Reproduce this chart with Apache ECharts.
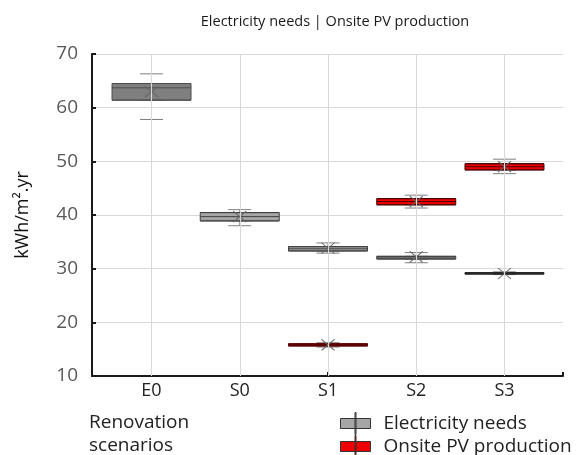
<!DOCTYPE html>
<html><head><meta charset="utf-8">
<script src="https://cdn.jsdelivr.net/npm/echarts@6/dist/echarts.min.js"></script>
<style>html,body{margin:0;padding:0;background:#fff}#c{width:577px;height:455px}</style>
</head><body><div id="c"></div>
<script>
const categories = ['E0', 'S0', 'S1', 'S2', 'S3'];
const yTicks = [10, 20, 30, 40, 50, 60, 70];
// Electricity needs: [min, Q1, median, Q3, max]
const elecBox = [
  [57.8, 61.4, 63.7, 64.5, 66.3],
  [38.0, 38.9, 39.7, 40.45, 41.0],
  [32.9, 33.3, 33.7, 34.1, 34.8],
  [31.1, 31.8, 32.0, 32.3, 33.0],
  [28.9, 29.0, 29.1, 29.25, 29.4]
];
const elecMean = [63.0, 39.7, 33.8, 32.2, 29.1];
// Onsite PV production: [min, Q1, median, Q3, max]
const pvBox = [
  null,
  null,
  [15.4, 15.6, 15.8, 16.0, 16.2],
  [41.3, 41.9, 42.5, 43.05, 43.7],
  [47.7, 48.4, 49.0, 49.55, 50.4]
];
const pvMean = [null, null, 15.8, 42.5, 49.0];

const elecFill = ['#7f7f7f', '#a6a6a6', '#a6a6a6', '#a6a6a6', '#595959'];
const elecBorder = ['#4d4d4d', '#404040', '#404040', '#404040', '#262626'];
const pvFill = [null, null, '#700a0a', '#ee0000', '#ee0000'];
const pvBorder = [null, null, '#5a0000', '#4a0000', '#4a0000'];

const FONT = 'Open Sans';
const whiskerData = (arr) => arr.map(v => v ? v : '-');
const boxData = (arr, fill, border) => arr.map((v, i) => v ? {
  value: [v[1], v[1], v[2], v[3], v[3]],
  itemStyle: { color: fill[i], borderColor: border[i], borderWidth: 1 }
} : '-');
const meanData = (arr) => arr.map((m, i) => m == null ? null : [categories[i], m]).filter(d => d);

const xSymbol = 'path://M0,0L12,10M12,0L0,10';
const hiddenCat = () => ({ type: 'category', gridIndex: 0, data: categories, show: false });
const legendIcon = 'path://M0,6H30V16H0Z M14.5,0H15.5V22H14.5Z';
const legendBase = (top, item) => ({
  orient: 'vertical', left: 340, top: top, padding: 0, itemWidth: 30, itemHeight: 22,
  textStyle: { fontFamily: FONT, fontSize: 19, color: '#222', padding: [0, 0, 0, 8] }, data: [item]
});

const chart = echarts.init(document.getElementById('c'), null, { renderer: 'canvas' });
chart.setOption({
  animation: false,
  textStyle: { fontFamily: FONT },
  title: [
    { text: 'Electricity needs | Onsite PV production', left: 330, top: 9, textAlign: 'center',
      textStyle: { fontFamily: FONT, fontSize: 14.5, fontWeight: 'normal', color: '#1a1a1a' } },
    { text: 'Renovation\nscenarios', left: 89, top: 411, padding: 0,
      textStyle: { fontFamily: FONT, fontSize: 19, fontWeight: 'normal', color: '#222', lineHeight: 23 } }
  ],
  legend: [
    legendBase(412, { name: 'Electricity needs', icon: legendIcon,
      itemStyle: { color: '#a6a6a6', borderColor: '#333', borderWidth: 1 } }),
    legendBase(435, { name: 'Onsite PV production', icon: legendIcon,
      itemStyle: { color: '#ee0000', borderColor: '#333', borderWidth: 1 } })
  ],
  grid: [
    { left: 107.4, right: 28.4, top: 54, bottom: 79 },
    { left: 92, right: 14, top: 54, bottom: 79 }
  ],
  xAxis: [
    { type: 'category', gridIndex: 0, data: categories,
      axisLine: { show: false }, axisTick: { show: false }, splitLine: { show: false },
      axisLabel: { fontFamily: FONT, fontSize: 18, color: '#222', margin: 6 } },
    { type: 'value', gridIndex: 1, min: 0, max: 2, interval: 1,
      axisLine: { show: true, lineStyle: { color: '#1a1a1a', width: 2 } },
      axisTick: { show: true, inside: true, length: 4, lineStyle: { color: '#1a1a1a', width: 2 } },
      axisLabel: { show: false }, splitLine: { show: false } },
    hiddenCat(), hiddenCat(), hiddenCat(), hiddenCat()
  ],
  yAxis: [
    { type: 'value', gridIndex: 0, min: 10, max: 70, interval: 10, show: false },
    { type: 'value', gridIndex: 1, min: yTicks[0], max: yTicks[yTicks.length - 1], interval: 10,
      name: 'kWh/m\u00b2.yr', nameLocation: 'middle', nameGap: 60,
      nameTextStyle: { fontFamily: FONT, fontSize: 18, color: '#111' },
      axisLine: { show: true, lineStyle: { color: '#1a1a1a', width: 2 } },
      axisTick: { show: true, inside: true, length: 4, lineStyle: { color: '#1a1a1a', width: 2 } },
      axisLabel: { fontFamily: FONT, fontSize: 19, color: '#595959', margin: 14 },
      splitLine: { show: true, lineStyle: { color: '#d9d9d9', width: 1 } } }
  ],
  series: [
    { type: 'scatter', xAxisIndex: 0, yAxisIndex: 0, data: [], z: 1, silent: true,
      markLine: { silent: true, symbol: ['none', 'none'], label: { show: false },
        lineStyle: { color: '#d9d9d9', width: 1, type: 'solid' },
        data: categories.map(c => ({ xAxis: c })) } },
    { name: 'Electricity needs', type: 'boxplot', xAxisIndex: 2, yAxisIndex: 0, z: 2,
      boxWidth: [23, 23], data: whiskerData(elecBox),
      itemStyle: { color: 'rgba(0,0,0,0)', borderColor: '#7f7f7f', borderWidth: 1 } },
    { name: 'Onsite PV production', type: 'boxplot', xAxisIndex: 3, yAxisIndex: 0, z: 2,
      boxWidth: [23, 23], data: whiskerData(pvBox),
      itemStyle: { color: 'rgba(0,0,0,0)', borderColor: '#7f7f7f', borderWidth: 1 } },
    { name: 'Electricity needs', type: 'boxplot', xAxisIndex: 4, yAxisIndex: 0, z: 3,
      boxWidth: [79, 79], data: boxData(elecBox, elecFill, elecBorder) },
    { name: 'Onsite PV production', type: 'boxplot', xAxisIndex: 5, yAxisIndex: 0, z: 3,
      boxWidth: [79, 79], data: boxData(pvBox, pvFill, pvBorder) },
    { name: 'Electricity needs', type: 'scatter', xAxisIndex: 0, yAxisIndex: 0, z: 4,
      symbol: xSymbol, symbolSize: [13, 11], data: meanData(elecMean),
      itemStyle: { color: 'rgba(0,0,0,0)', borderColor: '#666', borderWidth: 1, opacity: 1 } },
    { name: 'Onsite PV production', type: 'scatter', xAxisIndex: 0, yAxisIndex: 0, z: 4,
      symbol: xSymbol, symbolSize: [13, 11], data: meanData(pvMean),
      itemStyle: { color: 'rgba(0,0,0,0)', borderColor: '#666', borderWidth: 1, opacity: 1 } }
  ]
});
</script></body></html>
